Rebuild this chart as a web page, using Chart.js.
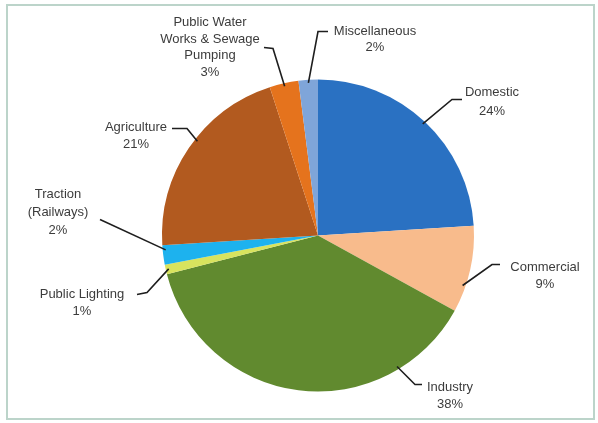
<!DOCTYPE html>
<html>
<head>
<meta charset="utf-8">
<script src="https://cdn.jsdelivr.net/npm/chart.js@4"></script>
<style>
  html, body { margin: 0; padding: 0; background: #ffffff; }
  #wrap { position: relative; width: 598px; height: 423px; overflow: hidden; }
  #frame { position: absolute; left: 6px; top: 4px; width: 585px; height: 412px; border: 2px solid #bcd4ca; box-sizing: content-box; }
  canvas { position: absolute; left: 0; top: 0; }
</style>
</head>
<body>
<div id="wrap">
  <div id="frame"></div>
  <canvas id="c" width="598" height="423"></canvas>
</div>
<script>
// ---- data ----
const categories = ["Domestic", "Commercial", "Industry", "Public Lighting", "Traction (Railways)", "Agriculture", "Public Water Works & Sewage Pumping", "Miscellaneous"];
const shares = [24, 9, 38, 1, 2, 21, 3, 2];
const labelLines = [
  ["Domestic", "24%"],
  ["Commercial", "9%"],
  ["Industry", "38%"],
  ["Public Lighting", "1%"],
  ["Traction", "(Railways)", "2%"],
  ["Agriculture", "21%"],
  ["Public Water", "Works & Sewage", "Pumping", "3%"],
  ["Miscellaneous", "2%"]
];
const sliceColors = ["#2a71c2", "#f8bb8c", "#618a2f", "#d8e35e", "#1db2ee", "#b25a1f", "#e5731d", "#7fa5d9"];

// ---- label layout (offsets from pie centre, pixels) ----
const labelLayout = [
  { frac: 0.5,  elbow: [134, -136], end: [144, -136], text: [174, -143], lh: 19 },
  { frac: 0.7,  elbow: [174, 29],   end: [182, 29],   text: [227, 32],   lh: 17 },
  { frac: 0.22, elbow: [97, 149],   end: [104, 149],  text: [132, 152],  lh: 17 },
  { frac: 0.5,  elbow: [-171, 57],  end: [-181, 59],  text: [-236, 59],  lh: 17 },
  { frac: 0.75, elbow: null,        end: [-218, -16], text: [-260, -41], lh: 18 },
  { frac: 0.55, elbow: [-131, -107],end: [-146, -107],text: [-182, -108],lh: 17 },
  { frac: 0.5,  elbow: [-45, -187], end: [-54, -188], text: [-108, -213],lh: 16.5 },
  { frac: 0.5,  elbow: [0, -204],   end: [10, -204],  text: [57, -204],  lh: 16 }
];

const leaderLabels = {
  id: 'leaderLabels',
  afterDraw(chart) {
    const ctx = chart.ctx;
    const meta = chart.getDatasetMeta(0);
    ctx.save();
    meta.data.forEach((arc, i) => {
      const p = arc.getProps(['x', 'y', 'startAngle', 'endAngle', 'outerRadius'], true);
      const L = labelLayout[i];
      const a = p.startAngle + L.frac * (p.endAngle - p.startAngle);
      const r = p.outerRadius - 3;
      const sx = p.x + r * Math.cos(a), sy = p.y + r * Math.sin(a);
      ctx.strokeStyle = '#1e1e1e';
      ctx.lineWidth = 1.6;
      ctx.beginPath();
      ctx.moveTo(sx, sy);
      if (L.elbow) ctx.lineTo(p.x + L.elbow[0], p.y + L.elbow[1]);
      ctx.lineTo(p.x + L.end[0], p.y + L.end[1]);
      ctx.stroke();
      ctx.fillStyle = '#3c3c3c';
      ctx.font = '13px "Liberation Sans", Arial, sans-serif';
      ctx.textAlign = 'center';
      ctx.textBaseline = 'middle';
      labelLines[i].forEach((t, k) => {
        ctx.fillText(t, p.x + L.text[0], p.y + L.text[1] + k * L.lh);
      });
    });
    ctx.restore();
  }
};

new Chart(document.getElementById('c'), {
  type: 'pie',
  data: {
    labels: categories,
    datasets: [{
      data: shares,
      backgroundColor: sliceColors,
      borderWidth: 0
    }]
  },
  options: {
    responsive: false,
    animation: false,
    layout: { padding: { top: 79, bottom: 31, left: 162, right: 124 } },
    plugins: { legend: { display: false }, tooltip: { enabled: false } }
  },
  plugins: [leaderLabels]
});
</script>
</body>
</html>
